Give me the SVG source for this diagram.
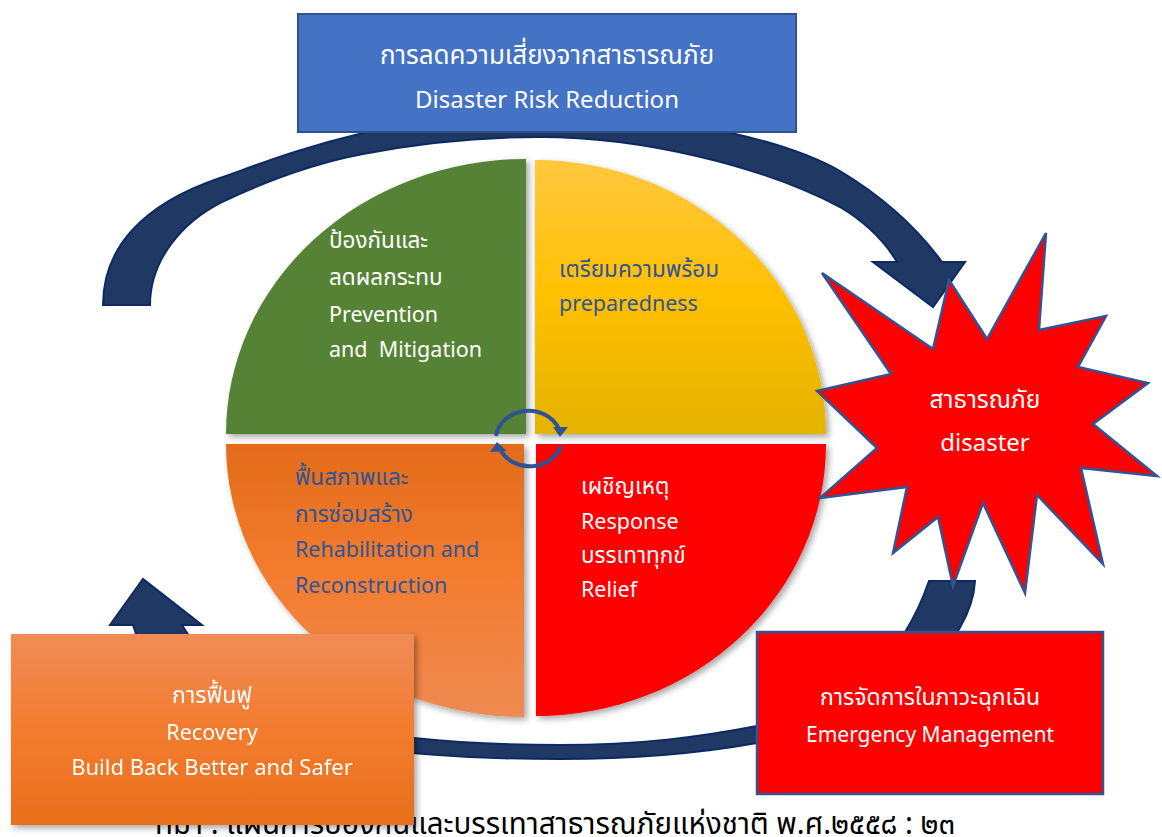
<svg xmlns="http://www.w3.org/2000/svg" width="1162" height="837" viewBox="0 0 1162 837">
<defs>
<style>
.t{font-family:"Noto Sans Thai","Leelawadee UI","Noto Sans",sans-serif;}
.w{fill:#ffffff;}
.b{fill:#2F5597;}
.q{font-size:21.5px;}
.qt{font-size:22.5px;}
.arc{fill:#1F3864;stroke:#0E2A62;stroke-width:2;stroke-linejoin:miter;}
.cyc{fill:none;stroke:#2E5395;stroke-width:4;}
.cyh{fill:#2E5395;}
</style>
<linearGradient id="gy" x1="0" y1="0" x2="0" y2="1">
<stop offset="0" stop-color="#FFC83F"/>
<stop offset="0.5" stop-color="#FFC000"/>
<stop offset="1" stop-color="#E4B200"/>
</linearGradient>
<linearGradient id="go" x1="0" y1="0" x2="0" y2="1">
<stop offset="0" stop-color="#E46B19"/>
<stop offset="0.5" stop-color="#F37D30"/>
<stop offset="1" stop-color="#EF8A52"/>
</linearGradient>
<linearGradient id="gr" x1="0" y1="0" x2="0" y2="1">
<stop offset="0" stop-color="#F08B57"/>
<stop offset="0.5" stop-color="#F37C2E"/>
<stop offset="1" stop-color="#E86F1C"/>
</linearGradient>
<filter id="sh" x="-10%" y="-10%" width="125%" height="125%">
<feDropShadow dx="3" dy="3" stdDeviation="3" flood-color="#000" flood-opacity="0.35"/>
</filter>
</defs>
<rect x="0" y="0" width="1162" height="837" fill="#ffffff"/>

<text class="t" x="155" y="834" font-size="30" fill="#000" textLength="800" lengthAdjust="spacingAndGlyphs">ที่มา : แผนการป้องกันและบรรเทาสาธารณภัยแห่งชาติ พ.ศ.๒๕๕๘ : ๒๓</text>

<g id="q-prevention" filter="url(#sh)">
<path d="M526,434 L226,434 A300,275 0 0 1 526,159 Z" fill="#548235"/>
</g>
<g id="q-preparedness" filter="url(#sh)">
<path d="M535,434 L535,160 A291,274 0 0 1 826,434 Z" fill="url(#gy)"/>
</g>
<g id="q-rehabilitation" filter="url(#sh)">
<path d="M524,444 L524,717 A298,273 0 0 1 226,444 Z" fill="url(#go)"/>
</g>
<g id="q-response" filter="url(#sh)">
<path d="M536,444 L826,444 A290,272 0 0 1 536,716 Z" fill="#FF0000"/>
</g>

<g id="connectors">
<path class="arc" d="M103,305 C103,250 140,205 220,178 C260,164 300,148 363,133 C430,117 480,112 540,112 C640,112 770,132 840,171 C880,195 915,225 942,262 L965,262 L933,307 L873,262 L897,262 C885,242 865,222 840,207 C760,165 640,137 540,137 C480,137 420,143 363,154 C310,164 262,183 222,202 C182,222 150,260 150,305 Z"/>
<path class="arc" d="M975,581 C972,640 900,720 757,743 C690,755 620,759 560,759 C470,759 410,754 360,747 C250,730 150,690 133,625 L110,625 L143,579 L202,625 L182,625 C220,690 300,725 414,738 C470,744 520,745 560,745 C640,745 700,737 757,726 C860,705 905,650 929,581 Z"/>
<path class="cyc" d="M496,436 A33,30 0 0 1 559,429"/>
<polygon class="cyh" points="553,427 568,427 560,437"/>
<path class="cyc" d="M561,446 A33,30 0 0 1 501,451"/>
<polygon class="cyh" points="490,452 507,451 497,442"/>
</g>

<g id="drr">
<rect x="298" y="14" width="498" height="118" fill="#4472C4" stroke="#2F528F" stroke-width="2"/>
<text class="t w" x="547" y="64" font-size="26" text-anchor="middle">การลดความเสี่ยงจากสาธารณภัย</text>
<text class="t w" x="547" y="108" font-size="24" text-anchor="middle">Disaster Risk Reduction</text>
</g>

<g id="disaster">
<polygon points="1046,233 1039,330 1106,316 1078,367 1148,383 1093,424 1157,476 1081,468 1103,564 1037,495 1025,593 983,503 953,586 938,517 893,553 907,487 820,498 877,448 817,391 891,374 822,273 933,349 949,280 987,339" fill="#FF0000" stroke="#2F5597" stroke-width="2.5" stroke-linejoin="miter"/>
<text class="t w" x="985" y="408" font-size="24.5" text-anchor="middle">สาธารณภัย</text>
<text class="t w" x="985" y="451" font-size="24" text-anchor="middle">disaster</text>
</g>

<g id="t-prevention">
<text class="t w qt" x="329" y="248">ป้องกันและ</text>
<text class="t w qt" x="329" y="285">ลดผลกระทบ</text>
<text class="t w q" x="329" y="322">Prevention</text>
<text class="t w q" x="329" y="357" xml:space="preserve">and  Mitigation</text>
</g>
<g id="t-preparedness">
<text class="t b qt" x="559" y="277">เตรียมความพร้อม</text>
<text class="t b q" x="559" y="311">preparedness</text>
</g>
<g id="t-rehabilitation">
<text class="t b qt" x="295" y="485">ฟื้นสภาพและ</text>
<text class="t b qt" x="295" y="522">การซ่อมสร้าง</text>
<text class="t b q" x="295" y="557">Rehabilitation and</text>
<text class="t b q" x="295" y="593">Reconstruction</text>
</g>
<g id="t-response">
<text class="t w qt" x="581" y="494">เผชิญเหตุ</text>
<text class="t w q" x="581" y="529">Response</text>
<text class="t w qt" x="581" y="563">บรรเทาทุกข์</text>
<text class="t w q" x="581" y="597">Relief</text>
</g>

<g id="recovery" filter="url(#sh)">
<rect x="11" y="634" width="403" height="191" fill="url(#gr)"/>
<text class="t w" x="212" y="703" font-size="23" text-anchor="middle">การฟื้นฟู</text>
<text class="t w" x="212" y="740" font-size="21.5" text-anchor="middle">Recovery</text>
<text class="t w" x="212" y="775" font-size="22" text-anchor="middle">Build Back Better and Safer</text>
</g>

<g id="emergency">
<rect x="757" y="632" width="346" height="162" fill="#FF0000" stroke="#2F5597" stroke-width="2.5"/>
<text class="t w" x="930" y="705" font-size="23" text-anchor="middle">การจัดการในภาวะฉุกเฉิน</text>
<text class="t w" x="930" y="742" font-size="21" text-anchor="middle">Emergency Management</text>
</g>
</svg>
